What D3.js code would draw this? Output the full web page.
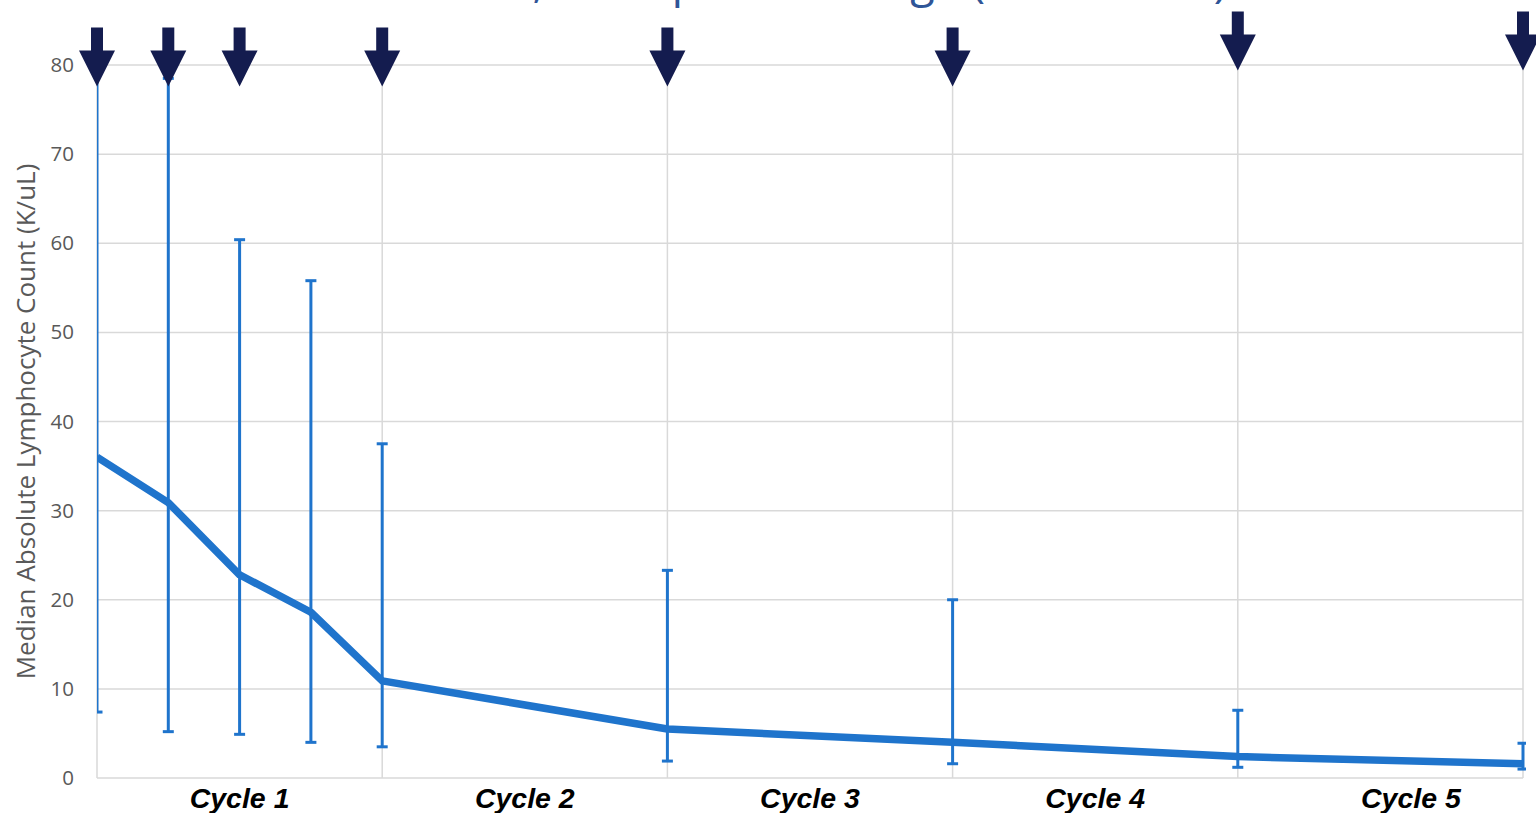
<!DOCTYPE html>
<html>
<head>
<meta charset="utf-8">
<script src="https://cdn.jsdelivr.net/npm/d3@7"></script>
<style>
  html, body { margin: 0; padding: 0; background: #ffffff; }
  svg { display: block; }
</style>
</head>
<body>
<svg id="chart" width="1536" height="813"></svg>
<script>
// Study days of each sample (cycle = 28 days)
const days = [0, 7, 14, 21, 28, 56, 84, 112, 140];
// Median absolute lymphocyte count (K/uL)
const medianALC = [36.0, 30.9, 22.8, 18.6, 10.9, 5.5, 4.0, 2.4, 1.6];
// Interquartile range bounds
const upperIQR = [82.0, 78.5, 60.4, 55.8, 37.5, 23.3, 20.0, 7.6, 3.9];
const lowerIQR = [7.4, 5.2, 4.9, 4.0, 3.5, 1.9, 1.6, 1.2, 1.0];
// Dosing days marked with arrows
const doseDays = [0, 7, 14, 28, 56, 84, 112, 140];
// Cycle boundaries and labels
const cycleBounds = [0, 28, 56, 84, 112, 140];
const cycleLabels = ["Cycle 1", "Cycle 2", "Cycle 3", "Cycle 4", "Cycle 5"];
const cycleLabelDays = [14, 42, 70, 98, 129];
const yTicks = [0, 10, 20, 30, 40, 50, 60, 70, 80];

// Layout
const plot = { left: 97, right: 1523, top: 65, bottom: 778 };
const arrowLift = [0, 0, 0, 0, 0, 0, 16, 16]; // px raise per arrow
const blue = "#1f74cc";
const navy = "#141c4f";
const grid = "#d9d9d9";

const svg = d3.select("#chart");

const x = d3.scaleLinear().domain([0, 140]).range([plot.left, plot.right]);
const y = d3.scaleLinear().domain([0, 80]).range([plot.bottom, plot.top]);

// Title (runs off the top edge)
svg.append("text")
  .attr("x", 1227).attr("y", -3)
  .attr("text-anchor", "end")
  .attr("font-family", "Open Sans, sans-serif")
  .attr("font-size", 45)
  .attr("fill", "#2f5597")
  .text("Median ALC, Interquartile Range (All Cohorts)");

// Horizontal gridlines
svg.append("g").selectAll("line").data(yTicks).join("line")
  .attr("x1", plot.left).attr("x2", plot.right)
  .attr("y1", d => y(d)).attr("y2", d => y(d))
  .attr("stroke", grid).attr("stroke-width", 1.5);

// Vertical cycle boundaries
svg.append("g").selectAll("line").data(cycleBounds).join("line")
  .attr("x1", d => x(d)).attr("x2", d => x(d))
  .attr("y1", plot.top).attr("y2", plot.bottom)
  .attr("stroke", grid).attr("stroke-width", 1.5);

// Y axis tick labels
const yAxis = d3.axisLeft(y).tickValues(yTicks).tickSize(0).tickPadding(23);
const yg = svg.append("g").attr("transform", `translate(${plot.left},0)`).call(yAxis);
yg.select(".domain").remove();
yg.selectAll("text")
  .attr("font-family", "Open Sans, sans-serif")
  .attr("font-size", 20.5)
  .attr("fill", "#595959");

// Y axis title
svg.append("text")
  .attr("transform", `translate(35,${(plot.top + plot.bottom) / 2}) rotate(-90)`)
  .attr("text-anchor", "middle")
  .attr("font-family", "Open Sans, sans-serif")
  .attr("font-size", 26)
  .attr("fill", "#595959")
  .text("Median Absolute Lymphocyte Count (K/uL)");

// Cycle labels
svg.append("g").selectAll("text").data(cycleLabels).join("text")
  .attr("x", (d, i) => x(cycleLabelDays[i]))
  .attr("y", 808)
  .attr("text-anchor", "middle")
  .attr("font-family", "Liberation Sans, Arial, sans-serif")
  .attr("font-size", 28.5)
  .attr("font-weight", "bold")
  .attr("font-style", "italic")
  .attr("fill", "#000")
  .text(d => d);

// Clip region for bars and line
svg.append("clipPath").attr("id", "plotClip")
  .append("rect")
  .attr("x", plot.left).attr("y", plot.top)
  .attr("width", plot.right - plot.left + 3)
  .attr("height", plot.bottom - plot.top);

const series = days.map((d, i) => ({ day: d, med: medianALC[i], hi: upperIQR[i], lo: lowerIQR[i] }));
const gBars = svg.append("g").attr("clip-path", "url(#plotClip)");

// Error bars (IQR)
gBars.selectAll("line.stem").data(series).join("line").attr("class", "stem")
  .attr("x1", d => x(d.day)).attr("x2", d => x(d.day))
  .attr("y1", d => y(d.hi)).attr("y2", d => y(d.lo))
  .attr("stroke", blue).attr("stroke-width", 3);
const capW = 5.5;
gBars.selectAll("line.capHi").data(series).join("line").attr("class", "capHi")
  .attr("x1", d => x(d.day) - capW).attr("x2", d => x(d.day) + capW)
  .attr("y1", d => y(d.hi)).attr("y2", d => y(d.hi))
  .attr("stroke", blue).attr("stroke-width", 3);
gBars.selectAll("line.capLo").data(series).join("line").attr("class", "capLo")
  .attr("x1", d => x(d.day) - capW).attr("x2", d => x(d.day) + capW)
  .attr("y1", d => y(d.lo)).attr("y2", d => y(d.lo))
  .attr("stroke", blue).attr("stroke-width", 3);

// Median line
const line = d3.line().x(d => x(d.day)).y(d => y(d.med));
gBars.append("path").datum(series)
  .attr("d", line)
  .attr("fill", "none")
  .attr("stroke", blue)
  .attr("stroke-width", 7.5)
  .attr("stroke-linejoin", "round");

// Dosing arrows
const arrowTip = y(77.6);
const shaftW = 12, headW = 36, headH = 36, shaftH = 23;
svg.append("g").selectAll("path").data(doseDays).join("path")
  .attr("d", (d, i) => {
    const cx = x(d);
    const tip = arrowTip - arrowLift[i];
    const base = tip - headH;
    const top = base - shaftH;
    return `M${cx - shaftW / 2},${top}L${cx + shaftW / 2},${top}L${cx + shaftW / 2},${base}` +
           `L${cx + headW / 2},${base}L${cx},${tip}L${cx - headW / 2},${base}L${cx - shaftW / 2},${base}Z`;
  })
  .attr("fill", navy);
</script>
</body>
</html>
